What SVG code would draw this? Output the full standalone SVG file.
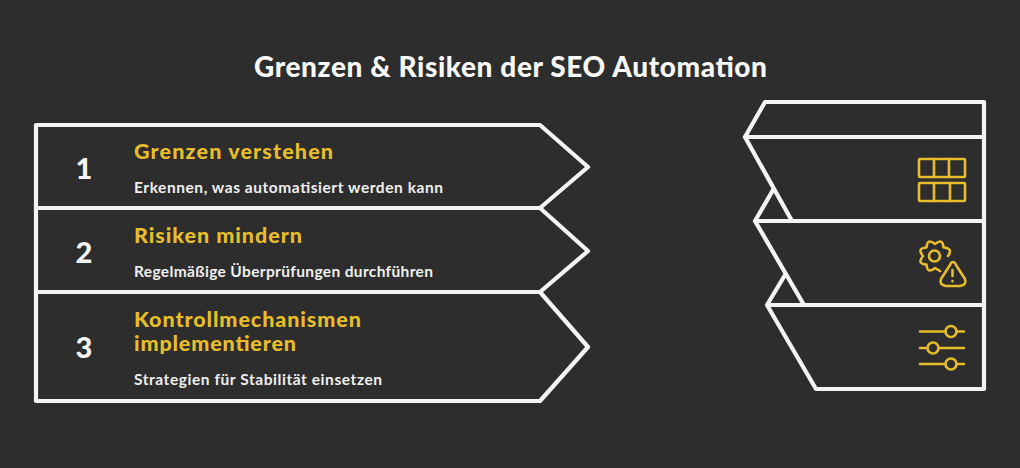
<svg xmlns="http://www.w3.org/2000/svg" width="1020" height="468" viewBox="0 0 1020 468">
<style>
.l{fill:none;stroke:#f4f4f4;stroke-width:4.2;stroke-linejoin:round;stroke-linecap:round}
.i{fill:none;stroke:#e8bd2b;stroke-width:2.600;stroke-linejoin:round;stroke-linecap:round}
text{font-family:"Lato","Noto Sans",sans-serif}
.t{fill:#f8f8f8;font-size:28px;font-weight:900}
.n{fill:#f4f4f4;font-size:29px;font-weight:900;text-anchor:middle}
.h{fill:#e8bd2b;font-size:21.500px;font-weight:900}
.d{fill:#f0f0f0;font-size:15.500px;font-weight:700}
</style>
<rect width="1020" height="468" fill="#2d2d2d"/>
<text class="t" x="254" y="77" textLength="513" lengthAdjust="spacing">Grenzen &amp; Risiken der SEO Automation</text>
<g id="step1"><path class="l" d="M36 125H540L588 167L540 208H36Z"/>
<text class="n" x="84" y="179">1</text>
<text class="h" x="134" y="159" textLength="199">Grenzen verstehen</text>
<text class="d" x="134" y="193" textLength="309">Erkennen, was automatisiert werden kann</text></g>
<g id="step2"><path class="l" d="M36 208H540L588 251L540 292H36Z"/>
<text class="n" x="84" y="263">2</text>
<text class="h" x="134" y="243" textLength="168">Risiken mindern</text>
<text class="d" x="134" y="277" textLength="299">Regelmäßige Überprüfungen durchführen</text></g>
<g id="step3"><path class="l" d="M36 292H540L588 347L540 401H36Z"/>
<text class="n" x="84" y="358">3</text>
<text class="h" x="134" y="327" textLength="227">Kontrollmechanismen</text>
<text class="h" x="134" y="351" textLength="162">implementieren</text>
<text class="d" x="134" y="385" textLength="248">Strategien für Stabilität einsetzen</text></g>
<g id="layer0"><path class="l" d="M745 137L765 102H984V137"/></g>
<g id="layer1"><path class="l" d="M745 137H984V221H792Z"/>
<g id="icon-grid" class="i"><rect x="919" y="159" width="46" height="18" rx="1"/><path d="M934 159V177M949 159V177"/><rect x="919" y="183" width="46" height="18" rx="1"/><path d="M934 183V201M950 183V201"/></g></g>
<g id="layer2"><path class="l" d="M773 190L755 221H984V305H804L755 221"/>
<g id="icon-gear" class="i"><circle cx="934.500" cy="256" r="5.500"/><path d="M948 256Q953.500 248.300 943.500 247.500Q942.700 237.500 935 244Q927.300 237.500 926.500 247.500Q916.500 248.300 923 256Q916.500 263.700 926.500 264.500Q927.300 274.500 935 268L940 271"/><path d="M953 262Q951 262 950 265L941 279Q939 285 946 286H960Q967 285 965 279L956 265Q955 262 953 262Z"/><path d="M952.500 270V276M952.500 281V281.300"/></g></g>
<g id="layer3"><path class="l" d="M785 275L767 305H984V389H816L767 305"/>
<g id="icon-sliders" class="i"><path d="M920 331.500H945M957 331.500H964M920 348H927M939 348H964M920 364H945M957 364H964"/><circle cx="951" cy="331.500" r="5.500"/><circle cx="933" cy="348" r="5.500"/><circle cx="951" cy="364" r="5.500"/></g></g>
</svg>
